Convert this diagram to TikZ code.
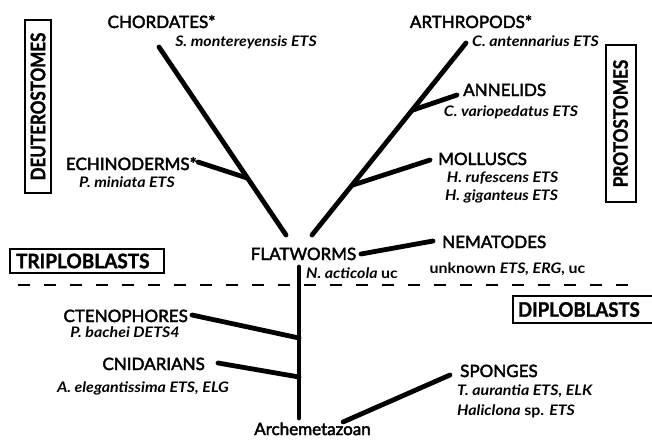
\documentclass[tikz,border=0pt]{standalone}
\usepackage{fontspec}
\usepackage{graphicx}
\setmainfont{Lato}
\newfontfamily\lblfont[FakeBold=2.5]{Lato}
\newfontfamily\spfont[FakeStretch=1.1]{Lato}
\newfontfamily\grpfont[FakeBold=1.5]{Lato}
\newcommand\gtxt[2]{\scalebox{#1}[1]{#2}}
\begin{document}
\begin{tikzpicture}[x=1pt,y=-1pt,
  lbl/.style={font=\lblfont\fontsize{17}{20}\selectfont, inner sep=0pt},
  spc/.style={font=\spfont\fontsize{14.5}{17}\selectfont\bfseries\itshape, inner sep=0pt},
  br/.style={line width=4.8pt, line cap=round},
  grp/.style={draw, line width=2pt, font=\grpfont\fontsize{20}{22}\selectfont\bfseries, inner ysep=0pt},
  vgrp/.style={grp, rotate=90, inner xsep=0pt}]
\useasboundingbox (0,0) rectangle (652,441);
\clip (0,0) rectangle (652,441);

% labels
\node[lbl, anchor=base] (chord) at (161.5,28) {CHORDATES*};
\node[spc, anchor=base] (chordsp) at (246,47) {S. montereyensis ETS};
\node[lbl, anchor=base east] (echi) at (197,170) {ECHINODERMS*};
\node[spc, anchor=base] (echisp) at (127,187) {P. miniata ETS};
\node[lbl, anchor=base] (arth) at (471,28) {ARTHROPODS*};
\node[spc, anchor=base] (arthsp) at (535.5,47) {C. antennarius ETS};
\node[lbl, anchor=base west] (anne) at (463,96) {ANNELIDS};
\node[spc, anchor=base] (annesp) at (511,117) {C. variopedatus ETS};
\node[lbl, anchor=base west] (moll) at (438,165) {MOLLUSCS};
\node[spc, anchor=base] (mollspa) at (502.5,182) {H. rufescens ETS};
\node[spc, anchor=base] (mollspb) at (501.5,200) {H. giganteus ETS};
\node[lbl, anchor=base] (flat) at (303.5,260) {FLATWORMS};
\node[spc, anchor=base west] (flatsp) at (306,278) {N. acticola \upshape uc};
\node[lbl, anchor=base west] (nema) at (442,248) {NEMATODES};
\node[spc, anchor=base] (nemasp) at (507.5,273) {\upshape unknown \itshape ETS, ERG, \upshape uc};
\node[lbl, anchor=base east] (cten) at (188,322) {CTENOPHORES};
\node[spc, anchor=base] (ctensp) at (125,337) {P. bachei DETS4};
\node[lbl, anchor=base east] (cnid) at (205,370) {CNIDARIANS};
\node[spc, anchor=base] (cnidsp) at (143,392) {A. elegantissima ETS, ELG};
\node[lbl, anchor=base west] (spon) at (460,377) {SPONGES};
\node[spc, anchor=base west] (sponspa) at (457,395) {T. aurantia ETS, ELK};
\node[spc, anchor=base west] (sponspb) at (457,415) {Haliclona \upshape sp. \itshape ETS};
\node[lbl, anchor=base] (arch) at (312.5,435) {Archemetazoan};

% group boxes
\node[vgrp, minimum width=173pt, minimum height=26pt] (deut) at (38,106.5) {\gtxt{0.85}{DEUTEROSTOMES}};
\node[vgrp, minimum width=157pt, minimum height=30pt] (prot) at (620.5,123.5) {\gtxt{0.86}{PROTOSTOMES}};
\node[grp, anchor=north west, minimum width=154pt, minimum height=24pt, text width=142pt, align=left, inner xsep=6pt] (trip) at (9,248) {\gtxt{0.95}{TRIPLOBLASTS}};
\node[grp, anchor=north west, minimum width=170pt, minimum height=27pt, text width=160pt, align=left, inner xsep=5pt] (dipl) at (512,295) {\gtxt{0.93}{DIPLOBLASTS}};

% coordinates
\coordinate (chT) at (159,47);
\coordinate (chB) at (286,235);
\coordinate (ecL) at (198,162);
\coordinate (ecJ) at (247,178);
\coordinate (arT) at (466,43);
\coordinate (arB) at (312,235);
\coordinate (anE) at (457,95);
\coordinate (anJ) at (413,110);
\coordinate (moE) at (430,160);
\coordinate (moJ) at (353,185);
\coordinate (neL) at (361,254);
\coordinate (neR) at (433,241);
\coordinate (trT) at (299,267);
\coordinate (trB) at (299,418);
\coordinate (ctL) at (192,315);
\coordinate (ctJ) at (299,338);
\coordinate (cnL) at (218,363);
\coordinate (cnJ) at (299,377);
\coordinate (spL) at (343,422);
\coordinate (spR) at (450,375);
\coordinate (dL) at (18,285);
\coordinate (dR) at (642,285);

% branches
\draw[br] (chT) -- (chB);
\draw[br] (ecL) -- (ecJ);
\draw[br] (arT) -- (arB);
\draw[br] (anE) -- (anJ);
\draw[br] (moE) -- (moJ);
\draw[br] (neL) -- (neR);
\draw[br] (trT) -- (trB);
\draw[br] (ctL) -- (ctJ);
\draw[br] (cnL) -- (cnJ);
\draw[br] (spL) -- (spR);
\draw[line width=2.2pt, dash pattern=on 12pt off 14pt] (dL) -- (dR);
\end{tikzpicture}
\end{document}
